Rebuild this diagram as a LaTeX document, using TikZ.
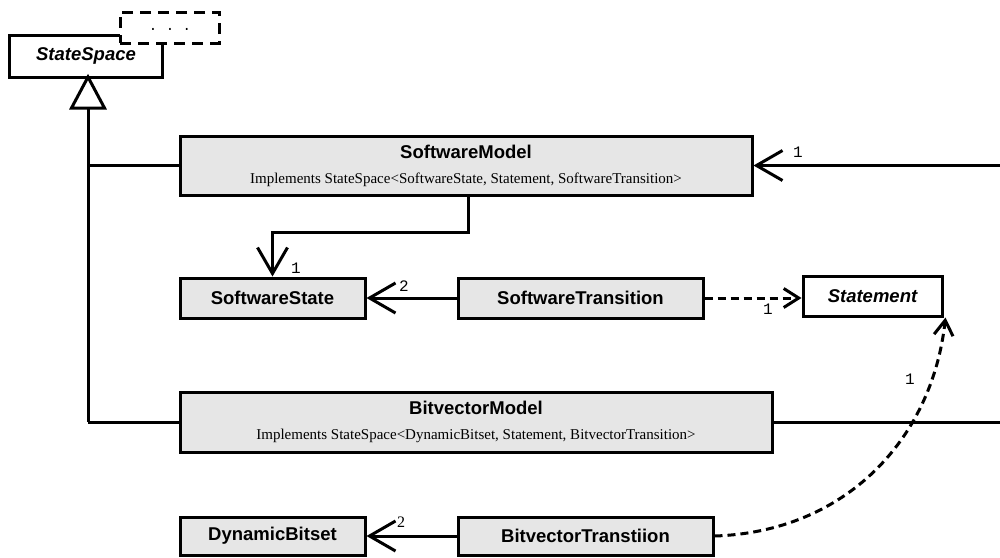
\documentclass[tikz,border=0pt]{standalone}
\usepackage{fontspec}
\setmainfont{Liberation Serif}
\setsansfont{Liberation Sans}
\setmonofont{Liberation Mono}
\usetikzlibrary{arrows.meta,calc}
\definecolor{boxgray}{HTML}{E6E6E6}
\tikzset{
  cls/.style={draw, line width=3pt, fill=boxgray, inner sep=0pt, align=center,
    font=\sffamily\bfseries\fontsize{18.5}{20}\selectfont},
  iface/.style={cls, fill=white, font=\sffamily\bfseries\itshape\fontsize{18.5}{20}\selectfont},
  conn/.style={line width=3pt},
  arr/.style={conn, -{Straight Barb[length=26pt,width=30pt,line width=3pt]}},
  dep/.style={line width=3pt, dash pattern=on 8pt off 5pt, -{Straight Barb[length=15pt,width=19pt,line width=3pt]}},
  mult/.style={font=\ttfamily\fontsize{16}{16}\selectfont, inner sep=0pt}
}
\newcommand{\subtxt}{\rmfamily\mdseries\fontsize{15}{16}\selectfont}
\begin{document}
\begin{tikzpicture}[x=1pt,y=-1pt]
\useasboundingbox (0,0) rectangle (1000,557);

% StateSpace with template box
\node[iface, minimum width=153pt, minimum height=42pt] (ss) at (86,56) {StateSpace};
\node[draw, fill=white, line width=3pt, dash pattern=on 11pt off 7pt, minimum width=99pt, minimum height=31pt, inner sep=0pt] (tpl) at (169.5,27.5) {};
\node[font=\ttfamily\fontsize{14}{14}\selectfont, inner sep=0pt] (dots) at (170,29) {. . .};

% classes
\node[cls, minimum width=572pt, minimum height=59pt] (sm) at (466,165.5)
  {SoftwareModel\\[5pt]{\subtxt Implements StateSpace<SoftwareState, Statement, SoftwareTransition>}};
\node[cls, minimum width=185pt, minimum height=40pt] (sst) at (272.5,298) {SoftwareState};
\node[cls, minimum width=245pt, minimum height=40pt] (stt) at (580.5,298) {SoftwareTransition};
\node[iface, minimum width=139pt, minimum height=40pt] (stm) at (872.5,296) {Statement};
\node[cls, minimum width=592pt, minimum height=60pt] (bm) at (476,422)
  {BitvectorModel\\[5pt]{\subtxt Implements StateSpace<DynamicBitset, Statement, BitvectorTransition>}};
\node[cls, minimum width=185pt, minimum height=38pt] (db) at (272.5,536) {DynamicBitset};
\node[cls, minimum width=255pt, minimum height=38pt] (bt) at (585.5,536) {BitvectorTranstiion};

% inheritance
\coordinate (tip) at (88,77);
\coordinate (tbase) at (88,108);
\coordinate (vend) at (88,422);
\draw[conn] (tbase) -- (vend);
\draw[conn] (88,165.5) -- (sm.west);
\draw[conn] (vend) -- (bm.west);
\draw[line width=3pt, fill=white, line join=miter] (tip) -- (104.5,108) -- (71.5,108) -- cycle;

% associations
\coordinate (rs) at (1002,165.5);
\coordinate (rb) at (1002,422);
\draw[arr] (rs) -- (sm.east);
\node[mult] (m1) at (798,152) {1};
\draw[conn] (bm.east) -- (rb);

\coordinate (k1) at (468,232);
\draw[arr] (sm.south -| k1) -- (k1) -| (sst.north);
\node[mult] (m2) at (296,268) {1};

\draw[arr] (stt.west) -- (sst.east);
\node[mult] (m3) at (404,286) {2};

\draw[dep] (stt.east) -- (stt.east -| stm.west);
\node[mult] (m4) at (768,309) {1};

\draw[arr] (bt.west) -- (db.east);
\node[font=\rmfamily\fontsize{16}{16}\selectfont, inner sep=0pt] (m5) at (401,522) {2};

\draw[dep] (bt.east) .. controls (845,532) and (932,440) .. ($(stm.south east)+(2,0)$);
\node[mult] (m6) at (910,379) {1};
\end{tikzpicture}
\end{document}
